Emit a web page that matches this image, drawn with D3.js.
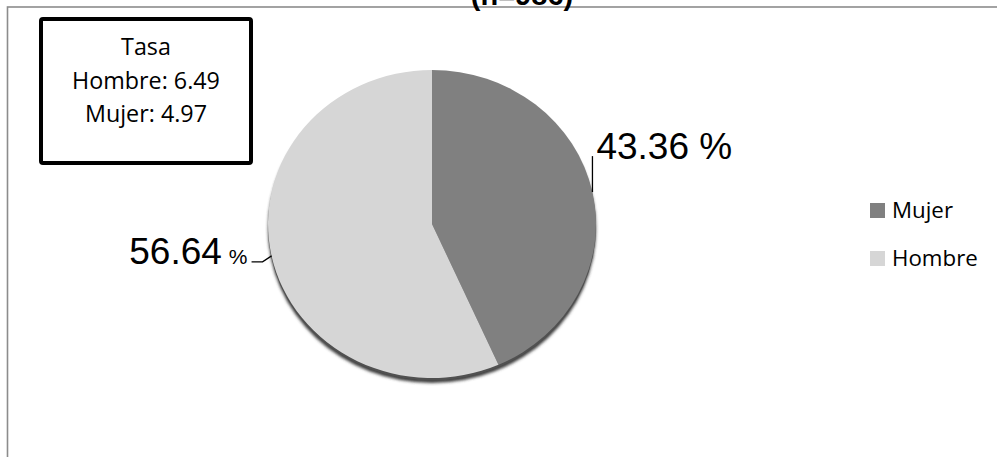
<!DOCTYPE html>
<html><head><meta charset="utf-8">
<script src="https://cdn.jsdelivr.net/npm/d3@7"></script>
<style>html,body{margin:0;padding:0;background:#fff;overflow:hidden}</style>
</head><body>
<svg id="chart" width="997" height="457"></svg>
<script>
// ---- data ----
const categories = ["Mujer", "Hombre"];
const values = [43.36, 56.64];
const colors = ["#808080", "#d6d6d6"];
const titleText = "(n=986)";
const rateTitle = "Tasa";
const rateLabels = ["Hombre", "Mujer"];
const rateValues = [6.49, 4.97];

// ---- layout ----
const W = 997, H = 457;
const cx = 432, cy = 224, rx = 164, ry = 154;
const svg = d3.select("#chart");

const defs = svg.append("defs");
defs.append("filter").attr("id", "blur").attr("x", "-10%").attr("y", "-10%").attr("width", "120%").attr("height", "120%")
  .append("feGaussianBlur").attr("stdDeviation", 1.8);

// outer frame
svg.append("rect").attr("x", 7.5).attr("y", 7).attr("width", W + 20).attr("height", H + 20)
  .attr("fill", "none").attr("stroke", "#8c8c8c").attr("stroke-width", 1.6);

// clipped title (cut off at the top edge as in the reference)
svg.append("text").attr("x", 522).attr("y", 5).attr("text-anchor", "middle")
  .attr("font-family", "Liberation Sans, Arial, sans-serif").attr("font-weight", "bold")
  .attr("font-size", 29).attr("fill", "#000").text(titleText);

// pie
const pie = d3.pie().sort(null).value(d => d)(values);
const arc = d3.arc().innerRadius(0).outerRadius(rx);
const g = svg.append("g").attr("transform", `translate(${cx},${cy}) scale(1,${ry / rx})`);

// shadow / 3D rim
g.append("circle").attr("cx", 0).attr("cy", 5 * rx / ry).attr("r", rx)
  .attr("fill", "#3c3c3c").attr("filter", "url(#blur)");
g.append("circle").attr("cx", 0).attr("cy", 2.5 * rx / ry).attr("r", rx).attr("fill", "#505050");

g.selectAll("path.slice").data(pie).join("path").attr("class", "slice")
  .attr("d", arc).attr("fill", (d, i) => colors[i]);

// labels with leader lines
const fmt = d3.format(".2f");
function edgePoint(a) { return [cx + rx * Math.sin(a), cy - ry * Math.cos(a)]; }
const mid = d => (d.startAngle + d.endAngle) / 2;

// Mujer label
{
  const d = pie[0];
  const [px, py] = edgePoint(mid(d));
  svg.append("path").attr("d", `M${px},${py}L${px},${py - 36}`)
    .attr("stroke", "#000").attr("stroke-width", 1.3).attr("fill", "none");
  svg.append("text").attr("x", px + 4).attr("y", py - 33)
    .attr("font-family", "Liberation Sans, Arial, sans-serif").attr("font-size", 37)
    .attr("fill", "#000").text(fmt(values[0]) + " %");
}
// Hombre label
{
  const d = pie[1];
  const [px, py] = edgePoint(mid(d));
  svg.append("path").attr("d", `M${px},${py}L${px - 9},${py + 6}L${px - 20},${py + 6}`)
    .attr("stroke", "#000").attr("stroke-width", 1.3).attr("fill", "none");
  const t = svg.append("text").attr("x", px - 24).attr("y", py + 8).attr("text-anchor", "end")
    .attr("font-family", "Liberation Sans, Arial, sans-serif").attr("fill", "#000");
  t.append("tspan").attr("font-size", 37).text(fmt(values[1]));
  t.append("tspan").attr("font-size", 21).attr("dx", 7).text("%");
}

// rate box
svg.append("rect").attr("x", 41).attr("y", 19).attr("width", 210).attr("height", 144).attr("rx", 2)
  .attr("fill", "#fff").attr("stroke", "#000").attr("stroke-width", 4);
const boxLines = [rateTitle].concat(rateLabels.map((l, i) => `${l}: ${rateValues[i]}`));
svg.selectAll("text.rate").data(boxLines).join("text").attr("class", "rate")
  .attr("x", 146).attr("y", (d, i) => 55 + i * 33.5).attr("text-anchor", "middle")
  .attr("font-family", "Open Sans, sans-serif").attr("font-size", 23.3).attr("fill", "#000")
  .text(d => d);

// legend
const leg = svg.append("g");
categories.forEach((c, i) => {
  const y = 203 + i * 48;
  leg.append("rect").attr("x", 870).attr("y", y).attr("width", 15).attr("height", 15).attr("fill", colors[i]);
  leg.append("text").attr("x", 892).attr("y", y + 15).attr("font-family", "Open Sans, sans-serif")
    .attr("font-size", 22.3).attr("fill", "#000").text(c);
});
</script>
</body></html>
